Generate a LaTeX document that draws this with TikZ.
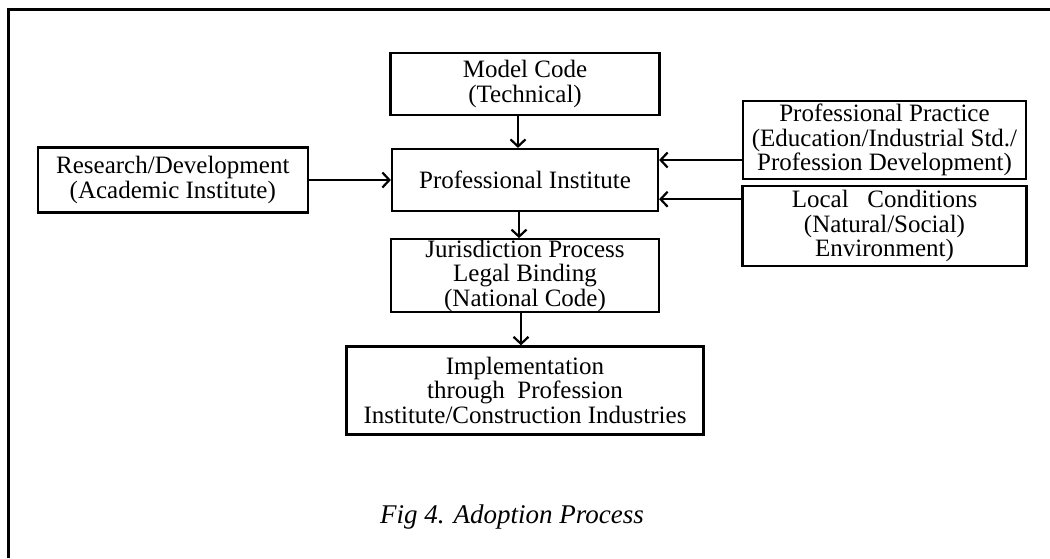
\documentclass[tikz,border=0pt]{standalone}
\usepackage{fontspec}
\setmainfont{Liberation Serif}
\usepackage{tikz}
\usetikzlibrary{arrows.meta, positioning}

\begin{document}
\begin{tikzpicture}[x=1pt, y=-1pt, line width=2.2pt,
    >={Straight Barb[length=7pt, width=15pt, line width=2.2pt]},
    blk/.style={draw, align=center, inner sep=0pt,
                font=\fontsize{25}{24.5}\selectfont}]
        \useasboundingbox (0,0) rectangle (1050,558);
        %% page frame, top and left edge only
        \draw[line width=3pt] (8,558) -- (8,9) -- (1050,9);

        \node (pi) [blk, minimum width=266pt, minimum height=62pt] at (525,180) {Professional Institute};
        \node (mc) [blk, minimum width=269pt, minimum height=62pt, above=32pt of pi] {Model Code\\(Technical)};
        \node (res)[blk, minimum width=270pt, minimum height=65pt, left=82pt of pi] {Research/Development\\(Academic Institute)};
        \node (jur)[blk, minimum width=268pt, minimum height=73pt, below=26pt of pi] {Jurisdiction Process\\Legal Binding\\(National Code)};
        \node (impl)[blk, minimum width=357pt, minimum height=88pt, below=32pt of jur] {Implementation\\through~~Profession\\Institute/Construction Industries};

        \node (pp) [blk, minimum width=283pt, minimum height=78pt] at (884.5,140) {Professional Practice\\(Education/Industrial Std./\\Profession Development)};
        \node (lc) [blk, minimum width=284pt, minimum height=80pt, below=5pt of pp] {Local~~~Conditions\\(Natural/Social)\\Environment)};

        \node (cap) at (512,517) {\fontsize{27}{30}\selectfont\itshape Fig 4. Adoption Process};

        %% connector ends, a little off the box centres
        \coordinate (mcout) at ([xshift=-7pt]mc.south);
        \coordinate (piout) at ([xshift=-6pt]pi.south);
        \coordinate (jurout) at ([xshift=-4pt]jur.south);
        \coordinate (ppin) at ([yshift=-20pt]pp.west);
        \coordinate (lcin) at ([yshift=27pt]lc.west);

        \draw[->] (mcout) -- (mcout |- pi.north);
        \draw[->] (res) -- (pi);
        \draw[->] (ppin) -- (ppin -| pi.east);
        \draw[->] (lcin) -- (lcin -| pi.east);
        \draw[->] (piout) -- (piout |- jur.north);
        \draw[->] (jurout) -- (jurout |- impl.north);

      \end{tikzpicture}
\end{document}
